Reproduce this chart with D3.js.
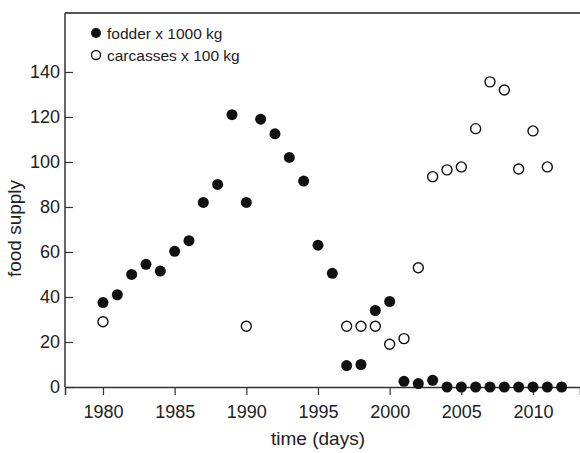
<!DOCTYPE html>
<html><head><meta charset="utf-8">
<script src="https://cdn.jsdelivr.net/npm/d3@7"></script>
<style>body{margin:0;background:#fff}svg{display:block}</style>
</head><body>
<script>
const fodderYears = [1980,1981,1982,1983,1984,1985,1986,1987,1988,1989,1990,1991,1992,1993,1994,1995,1996,1997,1998,1999,2000,2001,2002,2003,2004,2005,2006,2007,2008,2009,2010,2011,2012];
const fodderValues = [37.5,41,50,54.5,51.5,60.3,65,82,90,121,82,119,112.5,102,91.5,63,50.5,9.5,10,34,38,2.5,1.5,3,0,0,0,0,0,0,0,0,0];
const carcassYears = [1980,1990,1997,1998,1999,2000,2001,2002,2003,2004,2005,2006,2007,2008,2009,2010,2011];
const carcassValues = [29,27,27,27,27,19,21.5,53,93.5,96.5,97.8,114.8,135.6,132,96.9,113.8,97.8];
const xTicks = [1980,1985,1990,1995,2000,2005,2010];
const yTicks = [0,20,40,60,80,100,120,140];
const legendLabels = ["fodder x 1000 kg","carcasses x 100 kg"];

const W=580,H=453, L=65, T=13, R=580, B=387;
const font="'Liberation Sans', Arial, sans-serif";
const svg=d3.select("body").append("svg").attr("width",W).attr("height",H)
  .style("font-family",font);
const x=d3.scaleLinear().domain([1977.35,2013.28]).range([L,R]);
const y=d3.scaleLinear().domain([0,166.2]).range([B,T]);
const ink="#222";

// top frame line
svg.append("line").attr("x1",L).attr("x2",R).attr("y1",T).attr("y2",T)
  .attr("stroke","#555").attr("stroke-width",2);

const xa=svg.append("g").attr("transform",`translate(0,${B})`)
  .call(d3.axisBottom(x).tickValues(xTicks).tickFormat(d3.format("d")).tickSizeOuter(0).tickSize(8).tickPadding(10));
const ya=svg.append("g").attr("transform",`translate(${L},0)`)
  .call(d3.axisLeft(y).tickValues(yTicks).tickSizeOuter(0).tickSize(-8).tickPadding(5));
[xa,ya].forEach(g=>{
  g.select(".domain").attr("stroke","#333").attr("stroke-width",1.5);
  g.selectAll(".tick line").attr("stroke","#333").attr("stroke-width",1.2);
  g.selectAll("text").attr("fill",ink).style("font-size","18px").style("font-family",font);
});
ya.select(".domain").attr("d",`M0,${T}V${B}`);

svg.append("text").attr("x",318).attr("y",445).attr("text-anchor","middle")
  .attr("fill",ink).style("font-size","19px").text("time (days)");
svg.append("text").attr("transform",`translate(21,228.5) rotate(-90)`).attr("text-anchor","middle")
  .attr("fill",ink).style("font-size","19px").text("food supply");

const fodder=fodderYears.map((d,i)=>({x:d,y:fodderValues[i]}));
const carc=carcassYears.map((d,i)=>({x:d,y:carcassValues[i]}));
svg.append("g").selectAll("circle").data(carc).join("circle")
  .attr("cx",d=>x(d.x)).attr("cy",d=>y(d.y)).attr("r",5)
  .attr("fill","#fff").attr("stroke","#111").attr("stroke-width",1.4);
svg.append("g").selectAll("circle").data(fodder).join("circle")
  .attr("cx",d=>x(d.x)).attr("cy",d=>y(d.y)).attr("r",5.5).attr("fill","#111");

// legend
const lg=svg.append("g");
lg.append("circle").attr("cx",96).attr("cy",33).attr("r",5).attr("fill","#111");
lg.append("circle").attr("cx",96).attr("cy",55).attr("r",4.5).attr("fill","#fff").attr("stroke","#111").attr("stroke-width",1.3);
lg.selectAll("text").data(legendLabels).join("text")
  .attr("x",107).attr("y",(d,i)=>39+i*22).attr("fill",ink).style("font-size","15.5px").text(d=>d);
</script>
</body></html>
